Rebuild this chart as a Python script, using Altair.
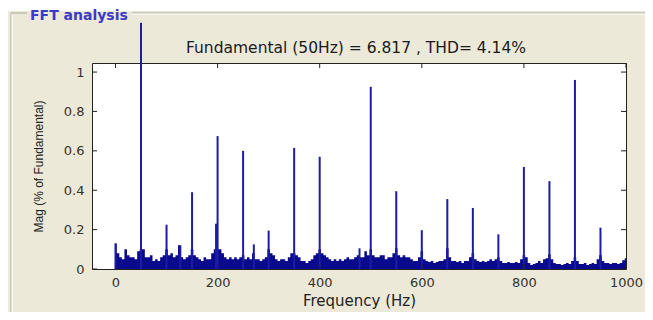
import altair as alt
import pandas as pd

# ---------------- data ----------------
# noise floor, 5 Hz bins from 0 to 1000 Hz (% of fundamental / 100)
noise_freq = list(range(0, 1005, 5))
noise_mag = [
    0.13, 0.08, 0.06, 0.05, 0.10, 0.07, 0.06, 0.06, 0.05, 0.09,
    0.10, 0.10, 0.06, 0.06, 0.07, 0.04, 0.05, 0.04, 0.06, 0.07,
    0.10, 0.07, 0.08, 0.06, 0.07, 0.12, 0.06, 0.05, 0.06, 0.07,
    0.10, 0.07, 0.06, 0.05, 0.04, 0.06, 0.05, 0.05, 0.08, 0.10,
    0.10, 0.10, 0.08, 0.06, 0.05, 0.06, 0.05, 0.06, 0.05, 0.06,
    0.07, 0.05, 0.06, 0.05, 0.08, 0.05, 0.05, 0.04, 0.05, 0.06,
    0.10, 0.08, 0.07, 0.05, 0.04, 0.05, 0.05, 0.04, 0.06, 0.08,
    0.08, 0.07, 0.06, 0.04, 0.04, 0.03, 0.04, 0.05, 0.07, 0.08,
    0.10, 0.08, 0.07, 0.06, 0.05, 0.04, 0.05, 0.04, 0.05, 0.04,
    0.05, 0.06, 0.05, 0.05, 0.06, 0.07, 0.06, 0.06, 0.09, 0.07,
    0.10, 0.07, 0.06, 0.06, 0.07, 0.07, 0.05, 0.06, 0.06, 0.08,
    0.105, 0.07, 0.06, 0.07, 0.06, 0.06, 0.05, 0.04, 0.04, 0.06,
    0.09, 0.05, 0.04, 0.035, 0.04, 0.03, 0.035, 0.04, 0.04, 0.05,
    0.105, 0.06, 0.04, 0.04, 0.035, 0.04, 0.03, 0.04, 0.04, 0.06,
    0.08, 0.05, 0.04, 0.035, 0.04, 0.035, 0.04, 0.05, 0.04, 0.05,
    0.06, 0.04, 0.03, 0.03, 0.035, 0.03, 0.03, 0.035, 0.03, 0.05,
    0.07, 0.06, 0.03, 0.02, 0.025, 0.03, 0.04, 0.03, 0.05, 0.055,
    0.075, 0.05, 0.03, 0.025, 0.025, 0.02, 0.025, 0.03, 0.025, 0.04,
    0.06, 0.04, 0.025, 0.025, 0.03, 0.02, 0.025, 0.03, 0.025, 0.05,
    0.07, 0.04, 0.03, 0.03, 0.025, 0.03, 0.03, 0.025, 0.03, 0.045,
    0.055,
]

# spectral lines (harmonics and isolated spikes)
line_freq = [0, 50, 100, 127, 150, 197, 200, 250, 271, 300, 350, 400,
             478, 500, 550, 600, 650, 700, 750, 800, 850, 900, 950]
line_mag = [0.13, 1.25, 0.225, 0.12, 0.39, 0.23, 0.675, 0.60, 0.125, 0.195,
            0.615, 0.57, 0.105, 0.925, 0.395, 0.197, 0.355, 0.31, 0.176,
            0.518, 0.446, 0.96, 0.21]

x_ticks = [0, 200, 400, 600, 800, 1000]
y_ticks = [0, 0.2, 0.4, 0.6, 0.8, 1]

title_text = "Fundamental (50Hz) = 6.817  , THD= 4.14%"
panel_title = "FFT analysis"
x_title = "Frequency (Hz)"
y_title = "Mag (% of Fundamental)"

# ---------------- layout ----------------
W, H = 534, 206
BG = "#ECE9D8"
NAVY = "#0a0a8c"
WIDE = "DejaVu Sans"
NARROW = "Liberation Sans"

xscale = alt.Scale(domain=[-46, 1000], nice=False, zero=False)
yscale = alt.Scale(domain=[0, 1.046], nice=False, zero=False)

x_axis = alt.Axis(values=x_ticks, title=x_title, format="d", ticks=False, domain=False,
                  grid=False, labelPadding=7, titlePadding=4, labelFlush=False,
                  labelFont=WIDE, labelFontSize=13, titleFont=WIDE, titleFontSize=15)
y_axis = alt.Axis(values=y_ticks, title=y_title, format="~g", ticks=False,
                  domain=False, grid=False, labelPadding=8, titlePadding=18,
                  labelFlush=False,
                  labelFont=WIDE, labelFontSize=13, titleFont=NARROW, titleFontSize=12)

noise_df = pd.DataFrame({"freq": noise_freq, "mag": noise_mag})
line_df = pd.DataFrame({"freq": line_freq, "mag": line_mag})
xt_df = pd.DataFrame({"freq": x_ticks})
yt_df = pd.DataFrame({"mag": y_ticks})
one = pd.DataFrame({"a": [0]})

X = alt.X("freq:Q", scale=xscale, axis=x_axis)
Y = alt.Y("mag:Q", scale=yscale, axis=y_axis)

noise = alt.Chart(noise_df).mark_area(interpolate="step", color=NAVY).encode(x=X, y=Y)

lines = alt.Chart(line_df).mark_rule(color="#1c1ca6", strokeWidth=2).encode(
    x=X, y=Y, y2=alt.datum(0))

tick_color = "#222222"
xt_bottom = alt.Chart(xt_df).mark_rule(color=tick_color).encode(
    x=X, y=alt.value(H), y2=alt.value(H - 5))
xt_top = alt.Chart(xt_df).mark_rule(color=tick_color).encode(
    x=X, y=alt.value(0), y2=alt.value(5))
yt_left = alt.Chart(yt_df).mark_rule(color=tick_color).encode(
    y=Y, x=alt.value(0), x2=alt.value(5))
yt_right = alt.Chart(yt_df).mark_rule(color=tick_color).encode(
    y=Y, x=alt.value(W), x2=alt.value(W - 5))

# chart title as a text mark centred over the plot
title_mark = alt.Chart(one).mark_text(
    text=title_text, font=WIDE, fontSize=15.5, color="#1a1a1a",
    align="center", baseline="middle").encode(x=alt.value(W / 2 - 3), y=alt.value(-15))

# panel decorations (pixel positions relative to plot origin at page (92, 63))
white_strip = alt.Chart(one).mark_rect(color="white").encode(
    x=alt.value(-84), x2=alt.value(553), y=alt.value(-55), y2=alt.value(-52))
border_top_a = alt.Chart(one).mark_rule(color="#a5a49c").encode(
    x=alt.value(-81), x2=alt.value(-65), y=alt.value(-50))
border_top_b = alt.Chart(one).mark_rule(color="#a5a49c").encode(
    x=alt.value(40), x2=alt.value(553), y=alt.value(-50))
border_top_hl = alt.Chart(one).mark_rule(color="white").encode(
    x=alt.value(40), x2=alt.value(553), y=alt.value(-49))
border_left = alt.Chart(one).mark_rule(color="#a5a49c").encode(
    x=alt.value(-81), y=alt.value(-50), y2=alt.value(250))
border_left_hl = alt.Chart(one).mark_rule(color="white").encode(
    x=alt.value(-80), y=alt.value(-49), y2=alt.value(250))
panel_label = alt.Chart(one).mark_text(
    text=panel_title, color="#3a3ac8", font=WIDE, fontSize=14, fontWeight="bold",
    align="left", baseline="middle").encode(x=alt.value(-62), y=alt.value(-47))

chart = alt.layer(
    white_strip, border_top_a, border_top_b, border_top_hl, border_left,
    border_left_hl, panel_label, title_mark,
    noise, lines, xt_bottom, xt_top, yt_left, yt_right,
).properties(
    width=W, height=H,
    autosize=alt.AutoSizeParams(type="none"),
    padding={"left": 84, "top": 55, "right": 19, "bottom": 43},
).configure(background=BG).configure_view(
    fill="white", stroke="#222222", strokeWidth=1
).configure_axis(
    labelColor="#333333", titleColor="#222222", titleFontWeight="normal",
)

chart.save("out.html", embed_options={"renderer": "svg", "actions": False})
